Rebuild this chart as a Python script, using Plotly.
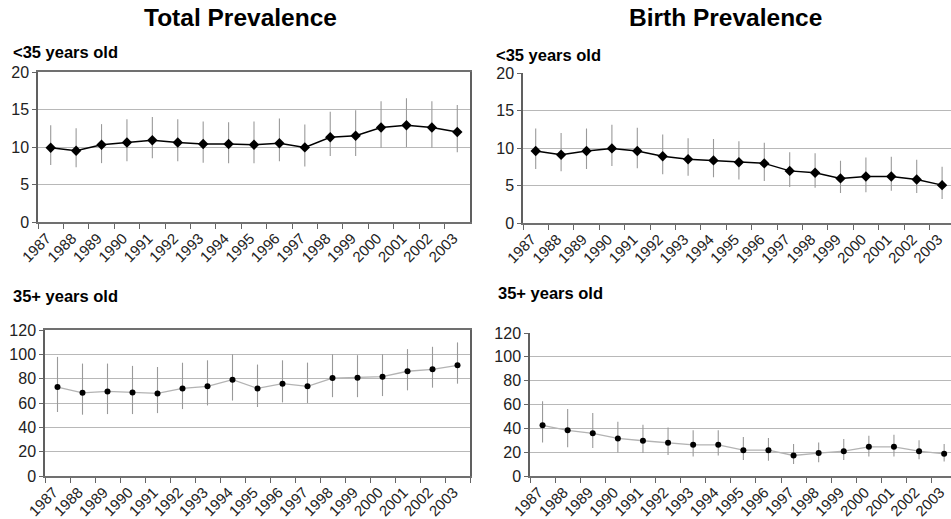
import plotly.graph_objects as go

years = [str(y) for y in range(1987, 2004)]

# Total prevalence, <35
tot_young = [9.9, 9.5, 10.3, 10.6, 10.9, 10.6, 10.4, 10.4, 10.3, 10.5, 9.95, 11.3, 11.5, 12.6, 12.9, 12.6, 12.0]
tot_young_hi = [12.9, 12.5, 13.05, 13.7, 14.0, 13.7, 13.4, 13.3, 13.4, 13.8, 13.0, 14.7, 14.9, 16.1, 16.5, 16.1, 15.6]
tot_young_lo = [7.6, 7.3, 7.85, 8.1, 8.5, 8.1, 7.9, 7.85, 7.85, 8.1, 7.4, 8.8, 8.8, 9.9, 10.0, 9.9, 9.3]

# Birth prevalence, <35
bir_young = [9.6, 9.1, 9.6, 9.95, 9.6, 8.9, 8.5, 8.35, 8.1, 7.95, 6.95, 6.7, 5.95, 6.2, 6.2, 5.8, 5.05]
bir_young_hi = [12.6, 12.0, 12.6, 13.1, 12.7, 11.8, 11.3, 11.2, 10.9, 10.7, 9.45, 9.3, 8.3, 8.75, 8.85, 8.45, 7.5]
bir_young_lo = [7.2, 6.9, 7.2, 7.6, 7.3, 6.5, 6.3, 6.1, 5.8, 5.6, 4.8, 4.7, 4.0, 4.1, 4.3, 4.0, 3.2]

# Total prevalence, 35+
tot_old = [73.1, 68.4, 69.5, 68.7, 67.9, 72.0, 73.7, 79.2, 72.0, 75.9, 73.7, 80.5, 80.8, 81.6, 86.1, 87.7, 91.0]
tot_old_hi = [97.9, 92.4, 92.4, 90.5, 89.6, 93.1, 95.1, 100.0, 91.6, 95.1, 93.2, 100.0, 99.3, 100.0, 104.3, 106.2, 109.8]
tot_old_lo = [52.6, 50.4, 50.9, 50.9, 51.7, 55.0, 58.0, 62.0, 56.7, 60.5, 60.0, 64.8, 64.8, 65.7, 70.4, 72.6, 75.9]

# Birth prevalence, 35+
bir_old = [42.5, 38.3, 35.8, 31.5, 29.6, 27.9, 26.2, 26.2, 21.7, 21.7, 17.2, 19.2, 20.8, 24.5, 24.5, 20.8, 18.6]
bir_old_hi = [62.8, 56.3, 52.9, 45.6, 43.1, 40.6, 38.3, 38.3, 32.7, 31.8, 26.8, 28.2, 31.0, 33.8, 34.6, 29.9, 26.8]
bir_old_lo = [28.2, 24.2, 23.4, 19.7, 19.2, 17.7, 16.3, 17.2, 13.5, 12.7, 10.1, 11.5, 13.5, 16.3, 16.3, 14.1, 12.1]

FONT = "Liberation Sans, Arial, sans-serif"
W, H = 951, 519

fig = go.Figure()

def add(vals, hi, lo, xa, ya, young):
    fig.add_trace(go.Scatter(
        x=years, y=vals, xaxis=xa, yaxis=ya, mode="lines+markers",
        line=dict(color="black" if young else "#b3b3b3", width=1.5 if young else 1.3),
        marker=dict(symbol="diamond" if young else "circle", size=8 if young else 6, color="black"),
        error_y=dict(type="data", symmetric=False,
                     array=[h - v for h, v in zip(hi, vals)],
                     arrayminus=[v - l for v, l in zip(vals, lo)],
                     width=0, color="#9a9a9a", thickness=1.1),
        showlegend=False, cliponaxis=False))

add(tot_young, tot_young_hi, tot_young_lo, "x", "y", True)
add(bir_young, bir_young_hi, bir_young_lo, "x2", "y2", True)
add(tot_old, tot_old_hi, tot_old_lo, "x3", "y3", False)
add(bir_old, bir_old_hi, bir_old_lo, "x4", "y4", False)

def px_x(a):
    return a / W

def px_y(a):
    return 1 - a / H

def xaxis(l, r, anchor, rng, mirror):
    return dict(domain=[px_x(l), min(1.0, px_x(r))], anchor=anchor, type="category",
                range=rng, tickson="boundaries", ticks="outside", ticklen=5,
                tickcolor="#666", tickangle=-45, showgrid=False, automargin=False,
                ticklabelshift=-4,
                showline=True, linecolor="#707070", linewidth=1.5, mirror=mirror,
                tickfont=dict(family=FONT, size=15, color="#222"))

def yaxis(t, b, anchor, rng, dtick):
    return dict(domain=[px_y(b), px_y(t)], anchor=anchor, range=rng, dtick=dtick,
                ticks="outside", ticklen=4, tickcolor="#666", automargin=False,
                showgrid=True, gridcolor="#b8b8b8", gridwidth=1,
                showline=True, linecolor="#606060", linewidth=1.5, mirror=True,
                zeroline=False,
                tickfont=dict(family=FONT, size=16, color="#222"))

fig.update_layout(
    width=W, height=H, margin=dict(l=0, r=0, t=0, b=0, autoexpand=False),
    paper_bgcolor="white", plot_bgcolor="white",
    xaxis=xaxis(38, 470, "y", [-0.5, 16.5], True),
    yaxis=yaxis(72, 222, "x", [0, 20], 5),
    xaxis2=xaxis(523, 951, "y2", [-0.5, (951 - 523) / 25.4 - 0.5], False),
    yaxis2=yaxis(73, 223, "x2", [0, 20], 5),
    xaxis3=xaxis(45, 470, "y3", [-0.5, 16.5], True),
    yaxis3=yaxis(330, 476, "x3", [0, 120], 20),
    xaxis4=xaxis(530, 951, "y4", [-0.5, (951 - 530) / 25.1 - 0.5], False),
    yaxis4=yaxis(333, 476, "x4", [0, 120], 20),
)

def text(s, x, y, size, anchor="left"):
    fig.add_annotation(text="<b>" + s + "</b>", x=px_x(x), y=px_y(y), xref="paper", yref="paper",
                       xanchor=anchor, yanchor="middle", showarrow=False,
                       font=dict(family=FONT, size=size, color="black"))

text("Total Prevalence", 240, 18, 24.5, "center")
text("Birth Prevalence", 725, 18, 24.5, "center")
text("&lt;35 years old", 11, 52, 16.5)
text("&lt;35 years old", 494, 55, 16.5)
text("35+ years old", 11, 296, 16.5)
text("35+ years old", 496, 293, 16.5)

fig.write_html("out.html", config={"displayModeBar": False},
               post_script="document.body.style.margin='0';document.body.style.overflow='hidden';")
